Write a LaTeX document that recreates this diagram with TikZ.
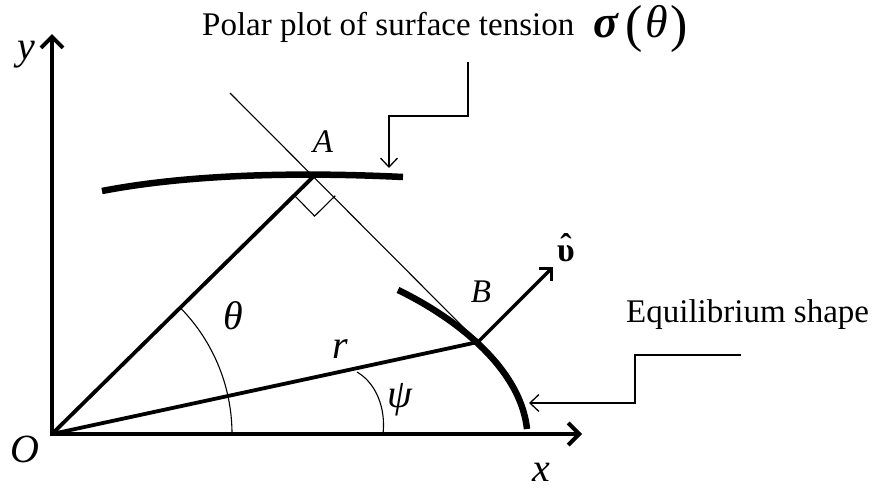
\documentclass[tikz,border=0pt]{standalone}
\usepackage{fontspec}
\setmainfont{Liberation Serif}
\usetikzlibrary{arrows.meta,calc}
\begin{document}
\begin{tikzpicture}[x=1pt,y=1pt,
  axis/.style={line width=4.5pt,-{Straight Barb[length=11pt,width=22pt,line width=4pt]}},
  bold/.style={line width=3.8pt},
  curvethick/.style={line width=6.5pt},
  thinline/.style={line width=1.1pt},
  callout/.style={line width=1.3pt,-{Straight Barb[length=9pt,width=17pt,line width=1.3pt]}},
  lbl/.style={font=\fontsize{40}{44}\selectfont\itshape,inner sep=0pt},
  lblsmall/.style={font=\fontsize{33}{36}\selectfont\itshape,inner sep=0pt},
  txt/.style={font=\fontsize{33}{38}\selectfont,inner sep=0pt}]
\useasboundingbox (0,0) rectangle (873,-490);
% points
\coordinate (O) at (52,-434);
\coordinate (A) at (315,-175);
\coordinate (B) at (478,-342);
\coordinate (T) at (230,-93);
\coordinate (X) at (582,-434);
\coordinate (Y) at (52,-34);
\coordinate (V) at (553,-267);
% axes
\draw[axis] ([xshift=-2.25pt]O) -- (X);
\draw[axis] ([yshift=-2.25pt]O) -- (Y);
% polar plot curve
\draw[curvethick] (102,-191) .. controls (190,-174) and (300,-172) .. (403,-177);
% equilibrium shape
\draw[curvethick] (398,-290) .. controls (450,-315) and (520,-365) .. (527,-429);
% rays
\draw[bold] (O) -- (A);
\draw[bold] (O) -- (B);
\draw[thinline] (T) -- (B);
\draw[line width=3.5pt,-{Straight Barb[length=9pt,width=18pt,line width=3.2pt]}] (B) -- (V);
% right angle mark
\coordinate (P1) at ($(A)!29pt!(O)$);
\coordinate (P2) at ($(A)!29pt!(B)$);
\draw[thinline] (P1) -- ($(P1)+(P2)-(A)$) -- (P2);
% angle arcs
\draw[thinline] ([xshift=180pt]O) arc[start angle=0,end angle=44.4,radius=180pt];
\draw[thinline] (357,-372) .. controls (376,-383) and (386,-408) .. (383,-434);
% labels
\node[lbl] (ly) at (26,-55) {y};
\node[lbl] (lO) at (25,-449) {O};
\node[lbl] (lx) at (541,-472) {x};
\node[lblsmall] (lA) at (323,-142) {A};
\node[lblsmall] (lB) at (481,-292) {B};
\node[lbl] (lr) at (340,-349) {r};
\node[lbl] (lth) at (233,-316) {θ};
\node[lbl] (lpsi) at (400,-400) {ψ};
\node[inner sep=0pt,font=\fontsize{34}{36}\selectfont\bfseries] (lv) at (566,-253) {\ooalign{υ\cr\hidewidth\raisebox{0.1em}{ˆ}\hidewidth\cr}};
% title
\node[txt,anchor=base west] (title) at (202,-35) {Polar plot of surface tension};
\node[inner sep=0pt,anchor=base west] (sig) at (593,-37) {\fontsize{46}{48}\selectfont\textbf{\textit{σ}}\hspace{6pt}\raisebox{-4pt}{\fontsize{52}{54}\selectfont(}\hspace{3pt}\textit{θ}\hspace{3pt}\raisebox{-4pt}{\fontsize{52}{54}\selectfont)}};
\node[txt,anchor=base west] (eq) at (626,-322) {Equilibrium shape};
% callouts
\coordinate (c1s) at (468,-62);
\coordinate (c1e) at (389,-168);
\draw[callout] (c1s) -- (468,-116) -- (389,-116) -- (c1e);
\coordinate (c2s) at (741,-355);
\coordinate (c2e) at (529,-403);
\draw[callout] (c2s) -- (635,-355) -- (635,-403) -- (c2e);
\end{tikzpicture}
\end{document}
